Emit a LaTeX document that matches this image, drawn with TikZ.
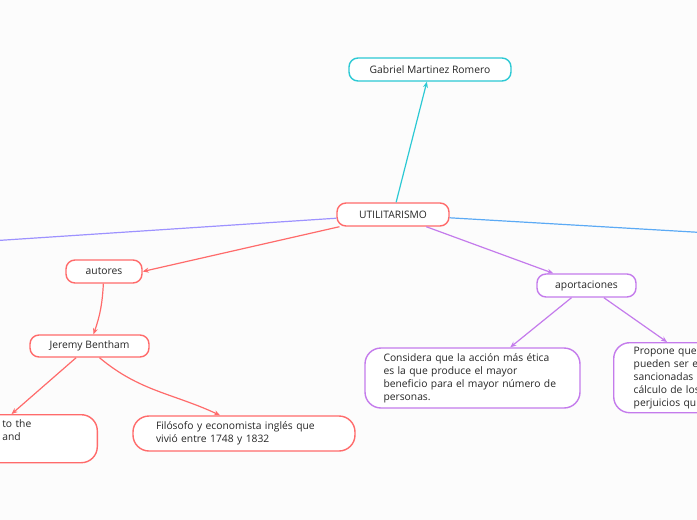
\documentclass[tikz,border=0pt]{standalone}
\usepackage{fontspec}
\setmainfont{Open Sans}
\usetikzlibrary{arrows.meta,positioning,calc}
\definecolor{mapaFondo}{HTML}{FCFCFC}
\definecolor{mapaCian}{HTML}{2CC9D4}
\definecolor{mapaRojo}{HTML}{FF6B6B}
\definecolor{mapaLila}{HTML}{C47BEC}
\definecolor{mapaViol}{HTML}{9D92FF}
\definecolor{mapaAzul}{HTML}{5BAAF5}
\definecolor{mapaTexto}{HTML}{262626}
\tikzset{
  tema/.style={draw=#1, line width=1.4pt, rounded corners=9pt, fill=white, text=mapaTexto, font=\fontsize{10.3}{13}\selectfont, inner sep=0pt, minimum height=23pt},
  nota/.style={draw=#1, line width=1.4pt, rounded corners=16pt, fill=white, text=mapaTexto, font=\fontsize{10.3}{13}\selectfont, align=left, inner ysep=0pt},
  rama/.style={draw=#1, line width=1.2pt, -{Stealth[length=6pt,width=5pt]}},
  ramalibre/.style={draw=#1, line width=1.2pt},
}

\begin{document}
\begin{tikzpicture}[x=1pt,y=-1pt]
\fill[mapaFondo] (0,0) rectangle (697,520);
\useasboundingbox (0,0) rectangle (697,520);
\clip (0,0) rectangle (697,520);

% temas
\node[tema=mapaCian, minimum width=162pt] (gabriel) at (430,69.5) {Gabriel Martinez Romero};
\node[tema=mapaRojo, minimum width=112pt] (util) at (393,214.5) {UTILITARISMO};
\node[tema=mapaRojo, minimum width=76pt] (autores) at (104,271.5) {autores};
\node[tema=mapaRojo, minimum width=119pt, minimum height=22pt] (bentham) at (89.5,346) {Jeremy Bentham};
\node[tema=mapaLila, minimum width=99pt] (aport) at (586.5,285.5) {aportaciones};

% notas
\node[nota=mapaRojo, anchor=north east, inner xsep=20pt, text width=75pt, minimum height=48pt] (benthamNota) at (98,414) {to the\\and\\\strut};
\node[nota=mapaRojo, inner xsep=23pt, text width=176pt, minimum height=35pt] (filosofo) at (244,433.5) {Filósofo y economista inglés que\\vivió entre 1748 y 1832};
\node[nota=mapaLila, inner xsep=18.5pt, text width=178pt, minimum height=60pt] (considera) at (472.5,378) {Considera que la acción más ética\\es la que produce el mayor\\beneficio para el mayor número de\\personas.};
\node[nota=mapaLila, anchor=north west, inner xsep=20pt, text width=150pt, minimum height=70pt] (propone) at (613,342) {Propone que\\pueden ser e\\sancionadas\\cálculo de los\\perjuicios qu};

% ramas sin fin visible
\coordinate (violFin) at (-10,241);
\coordinate (azulFin) at (710,233);

\draw[rama=mapaCian] (util) -- (gabriel);
\draw[ramalibre=mapaViol] (util) -- (violFin);
\draw[ramalibre=mapaAzul] (util) -- (azulFin);
\draw[rama=mapaRojo] (util) -- (autores.east);
\draw[rama=mapaLila] (util) -- (aport);
\draw[rama=mapaRojo] (autores) to[bend left=8] (bentham);
\draw[rama=mapaRojo] (bentham) -- ($(benthamNota.north west)+(30,0)$);
\draw[rama=mapaRojo] ([xshift=10pt]bentham.south) to[out=-40,in=155] ([xshift=-24pt]filosofo.north);
\draw[rama=mapaLila] (aport) -- (considera);
\draw[rama=mapaLila] (aport) -- ($(propone.north west)+(54,0)$);
\end{tikzpicture}
\end{document}
